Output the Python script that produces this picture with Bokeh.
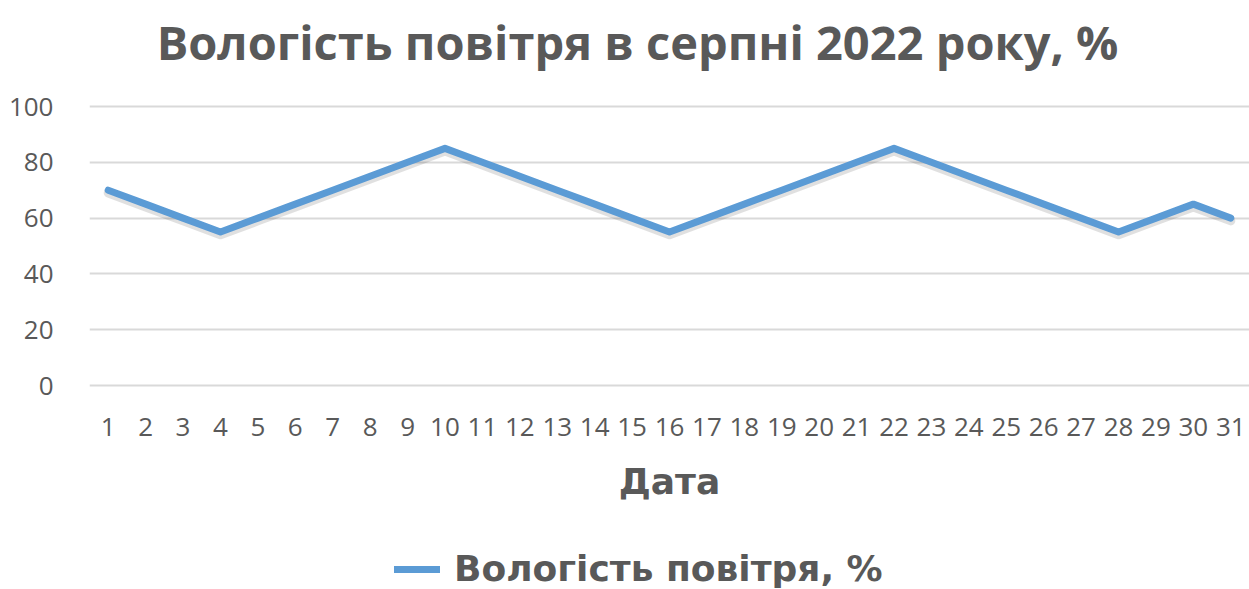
from bokeh.plotting import figure
from bokeh.layouts import column
from bokeh.models import (FactorRange, Range1d, FixedTicker, Label, Legend, LegendItem,
                          ColumnDataSource)
from bokeh.embed import file_html
from bokeh.resources import INLINE

# ---- data ----
days = [str(d) for d in range(1, 32)]
humidity = [70, 65, 60, 55, 60, 65, 70, 75, 80, 85,
            80, 75, 70, 65, 60, 55, 60, 65, 70, 75,
            80, 85, 80, 75, 70, 65, 60, 55, 60, 65, 60]
y_ticks = [0, 20, 40, 60, 80, 100]
title_text = "Вологість повітря в серпні 2022 року, %"
x_title = "Дата"
series_name = "Вологість повітря, %"

TEXT = "#595959"
LINE = "#5B9BD5"

src = ColumnDataSource(dict(day=days, h=humidity, hs=[v - 1.0 for v in humidity]))

W = 1249
MAIN_H = 520
LEG_H = 589 - MAIN_H
FL, FB = 89, 387          # frame left / bottom in canvas pixels
Y0_PX, Y100_PX = 385, 106  # where 0 and 100 sit on the canvas
k = (Y0_PX - Y100_PX) / 100.0
y_start = -(FB - Y0_PX) / k
y_end = 100 + Y100_PX / k   # frame reaches the top of the canvas (room for the title)

p = figure(width=W, height=MAIN_H, output_backend="svg", toolbar_location=None,
           x_range=FactorRange(*days, range_padding=0), y_range=Range1d(y_start, y_end),
           min_border_left=FL, min_border_right=0, min_border_top=0,
           min_border_bottom=MAIN_H - FB)
p.outline_line_color = None
p.background_fill_color = "white"
p.border_fill_color = "white"

# soft shadow under the series line
p.line("day", "hs", source=src, line_color="black", line_alpha=0.12, line_width=9,
       line_join="round", line_cap="round")
p.line("day", "h", source=src, line_color=LINE, line_width=7,
       line_join="round", line_cap="round")

p.yaxis.ticker = FixedTicker(ticks=y_ticks)
p.yaxis.axis_line_color = None
p.yaxis.major_tick_line_color = None
p.yaxis.minor_tick_line_color = None
p.yaxis.major_label_text_font = "Open Sans"
p.yaxis.major_label_text_font_size = "26px"
p.yaxis.major_label_text_color = TEXT
p.yaxis.major_label_standoff = 30

p.xaxis.axis_line_color = None
p.xaxis.major_tick_line_color = None
p.xaxis.major_label_text_font = "Open Sans"
p.xaxis.major_label_text_font_size = "26px"
p.xaxis.major_label_text_color = TEXT
p.xaxis.major_label_standoff = 24
p.xaxis.axis_label = x_title
p.xaxis.axis_label_text_font = "DejaVu Sans"
p.xaxis.axis_label_text_font_style = "bold"
p.xaxis.axis_label_text_font_size = "36px"
p.xaxis.axis_label_text_color = TEXT
p.xaxis.axis_label_standoff = 22

p.xgrid.grid_line_color = None
p.ygrid.grid_line_color = "#D9D9D9"
p.ygrid.grid_line_width = 2

p.add_layout(Label(x=637 - FL, y=FB - 41, x_units="screen", y_units="screen",
                   text=title_text, text_font="Open Sans", text_font_style="bold",
                   text_font_size="47px", text_color=TEXT,
                   text_align="center", text_baseline="middle"))

# ---- legend strip below the chart ----
pl = figure(width=W, height=LEG_H, output_backend="svg", toolbar_location=None,
            x_range=FactorRange(*days), y_range=Range1d(1000, 1001),
            x_axis_location=None, y_axis_location=None,
            min_border_left=0, min_border_right=0, min_border_top=0, min_border_bottom=0)
pl.outline_line_color = None
pl.grid.grid_line_color = None
pl.background_fill_color = "white"
pl.border_fill_color = "white"
r_leg = pl.line("day", "h", source=src, line_color=LINE, line_width=7, line_cap="round")

legend = Legend(items=[LegendItem(label=series_name, renderers=[r_leg])],
                location=(305, 0), orientation="horizontal",
                label_text_font="DejaVu Sans", label_text_font_style="bold",
                label_text_font_size="36px", label_text_color=TEXT,
                glyph_width=46, glyph_height=20, label_standoff=14,
                padding=0, margin=0, spacing=0,
                border_line_color=None, background_fill_alpha=0)
pl.add_layout(legend, "center")

layout = column(p, pl, spacing=0)
open("out.html", "w").write(file_html(layout, INLINE))
